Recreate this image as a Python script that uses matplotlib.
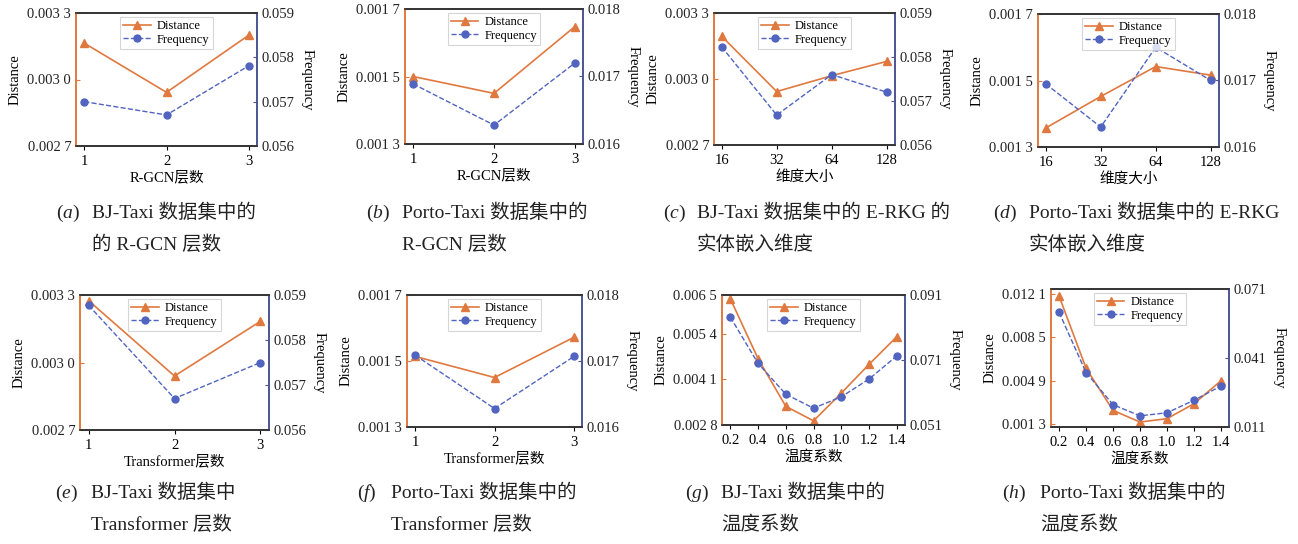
import numpy as np
import matplotlib
matplotlib.use("Agg")
import matplotlib.pyplot as plt

plt.rcParams['font.family'] = ['Liberation Serif', 'Noto Sans CJK SC']
plt.rcParams['mathtext.fontset'] = 'custom'
plt.rcParams['mathtext.it'] = 'Liberation Serif:italic'
plt.rcParams['mathtext.rm'] = 'Liberation Serif'

# ---- data ----
layers = [1, 2, 3]
dims = ['16', '32', '64', '128']
temps = [0.2, 0.4, 0.6, 0.8, 1.0, 1.2, 1.4]

# (a) BJ-Taxi, R-GCN layers
a_dist = [0.003164, 0.002942, 0.003200]
a_freq = [0.05700, 0.05670, 0.05781]
# (b) Porto-Taxi, R-GCN layers
b_dist = [0.001500, 0.001450, 0.001648]
b_freq = [0.01689, 0.01628, 0.01720]
# (c) BJ-Taxi, embedding dim
c_dist = [0.003194, 0.002943, 0.003015, 0.003080]
c_freq = [0.05823, 0.05668, 0.05760, 0.05720]
# (d) Porto-Taxi, embedding dim
d_dist = [0.001357, 0.001452, 0.001542, 0.001516]
d_freq = [0.01695, 0.01630, 0.01750, 0.01700]
# (e) BJ-Taxi, Transformer layers
e_dist = [0.003275, 0.002940, 0.003183]
e_freq = [0.05877, 0.05670, 0.05750]
# (f) Porto-Taxi, Transformer layers
f_dist = [0.001514, 0.001450, 0.001572]
f_freq = [0.01709, 0.01628, 0.01707]
# (g) BJ-Taxi, temperature
g_dist = [0.006393, 0.004690, 0.003332, 0.002918, 0.003706, 0.004523, 0.005311]
g_freq = [0.0842, 0.06997, 0.06048, 0.05616, 0.05966, 0.06512, 0.07224]
# (h) Porto-Taxi, temperature
h_dist = [0.01191, 0.005944, 0.002454, 0.001492, 0.001767, 0.003004, 0.004900]
h_freq = [0.06085, 0.03468, 0.02071, 0.01585, 0.01718, 0.02262, 0.02880]

bj_left = [0.0027, 0.0030, 0.0033]
bj_right = [0.056, 0.057, 0.058, 0.059]
po_left = [0.0013, 0.0015, 0.0017]
po_right = [0.016, 0.017, 0.018]
g_left = [0.0028, 0.0041, 0.0054, 0.0065]
g_right = [0.051, 0.071, 0.091]
h_left = [0.0013, 0.0049, 0.0085, 0.0121]
h_right = [0.011, 0.041, 0.071]

captions = [
    ('a', 'BJ-Taxi 数据集中的', '的 R-GCN 层数'),
    ('b', 'Porto-Taxi 数据集中的', 'R-GCN 层数'),
    ('c', 'BJ-Taxi 数据集中的 E-RKG 的', '实体嵌入维度'),
    ('d', 'Porto-Taxi 数据集中的 E-RKG', '实体嵌入维度'),
    ('e', 'BJ-Taxi 数据集中', 'Transformer 层数'),
    ('f', 'Porto-Taxi 数据集中的', 'Transformer 层数'),
    ('g', 'BJ-Taxi 数据集中的', '温度系数'),
    ('h', 'Porto-Taxi 数据集中的', '温度系数'),
]

ORANGE = '#E0793F'
BLUE = '#5064C0'
RSPINE = '#4B5592'

W, H = 1298, 544
fig = plt.figure(figsize=(W / 100, H / 100), dpi=100)


def fmt4(v):
    s = f"{v:.4f}"
    return s[:-1] + " " + s[-1]


def panel(box, x, xt, xtl, xlim, dist, freq, lt, llim, rt, rlim, xlabel):
    l, t, r, b = box
    ax = fig.add_axes([l / W, 1 - b / H, (r - l) / W, (b - t) / H])
    ax2 = ax.twinx()
    ln1, = ax.plot(x, dist, color=ORANGE, lw=1.2, marker='^', ms=6, label='Distance')
    ln2, = ax2.plot(x, freq, color=BLUE, lw=1.0, ls='--', marker='o', ms=5, label='Frequency')
    ax.set_xlim(*xlim)
    ax.set_xticks(xt)
    ax.set_xticklabels(xtl)
    ax.set_ylim(*llim)
    ax.set_yticks(lt)
    ax.set_yticklabels([fmt4(v) for v in lt])
    ax2.set_ylim(*rlim)
    ax2.set_yticks(rt)
    ax2.set_yticklabels([f"{v:.3f}" for v in rt])
    ax.set_xlabel(xlabel, fontsize=10.5, labelpad=2)
    ax.set_ylabel('Distance', fontsize=10.5)
    ax2.set_ylabel('Frequency', fontsize=10.5, rotation=270, va='bottom')
    ax.tick_params(axis='x', direction='out', length=3, labelsize=10.5)
    ax.tick_params(axis='y', direction='in', length=3, labelsize=10.5, colors='#222222')
    ax2.tick_params(axis='y', direction='in', length=3, labelsize=10.5, colors='#222222')
    ax.tick_params(axis='y', color=ORANGE)
    ax2.tick_params(axis='y', color=RSPINE)
    for a in (ax, ax2):
        a.spines['left'].set_color(ORANGE)
        a.spines['right'].set_color(RSPINE)
        a.spines['top'].set_color('#333333')
        a.spines['bottom'].set_color('#333333')
        for s in a.spines.values():
            s.set_linewidth(1.2)
    leg = ax2.legend([ln1, ln2], ['Distance', 'Frequency'], loc='upper center',
                     fontsize=9, fancybox=False, edgecolor='#cccccc',
                     borderpad=0.25, handlelength=2.2, labelspacing=0.15,
                     borderaxespad=0.3, handletextpad=0.5)
    leg.get_frame().set_linewidth(0.8)
    return ax


lx = (0.9, 3.1)
dx = list(range(len(dims)))
tx = (0.14, 1.46)

panel((76, 13, 257, 146), layers, layers, [str(v) for v in layers], lx,
      a_dist, a_freq, bj_left, (0.0027, 0.0033), bj_right, (0.056, 0.059), 'R-GCN层数')
panel((405, 9, 583, 144), layers, layers, [str(v) for v in layers], lx,
      b_dist, b_freq, po_left, (0.0013, 0.0017), po_right, (0.016, 0.018), 'R-GCN层数')
panel((714, 13, 895, 145), dx, dx, dims, (-0.14, 3.15),
      c_dist, c_freq, bj_left, (0.0027, 0.0033), bj_right, (0.056, 0.059), '维度大小')
panel((1038, 14, 1219, 147), dx, dx, dims, (-0.14, 3.15),
      d_dist, d_freq, po_left, (0.0013, 0.0017), po_right, (0.016, 0.018), '维度大小')
panel((80, 295, 269, 430), layers, layers, [str(v) for v in layers], lx,
      e_dist, e_freq, bj_left, (0.0027, 0.0033), bj_right, (0.056, 0.059), 'Transformer层数')
panel((407, 295, 582, 427), layers, layers, [str(v) for v in layers], lx,
      f_dist, f_freq, po_left, (0.0013, 0.0017), po_right, (0.016, 0.018), 'Transformer层数')
panel((722, 295, 905, 425), temps, temps, [f"{v:.1f}" for v in temps], tx,
      g_dist, g_freq, g_left, (0.0028, 0.0065), g_right, (0.051, 0.091), '温度系数')
panel((1051, 289, 1229, 427), temps, temps, [f"{v:.1f}" for v in temps], tx,
      h_dist, h_freq, h_left, (0.00108, 0.0125), h_right, (0.011, 0.071), '温度系数')

# captions: "(x)" label, then the rest of line 1 and line 2 aligned together
cap_pos = [(56, 92, 213), (366, 402, 213), (663, 697, 213), (993, 1029, 213),
           (55, 91, 493), (357, 391, 493), (685, 721, 493), (1002, 1040, 493)]
for (letter, l1, l2), (x1, x2, y) in zip(captions, cap_pos):
    fig.text(x1 / W, 1 - y / H, f"(${letter}$)", fontsize=14,
             va='center', ha='left', color='#222222')
    fig.text(x2 / W, 1 - y / H, l1, fontsize=14,
             va='center', ha='left', color='#222222')
    fig.text(x2 / W, 1 - (y + 32) / H, l2, fontsize=14,
             va='center', ha='left', color='#222222')

fig.savefig('out.png', dpi=100)
